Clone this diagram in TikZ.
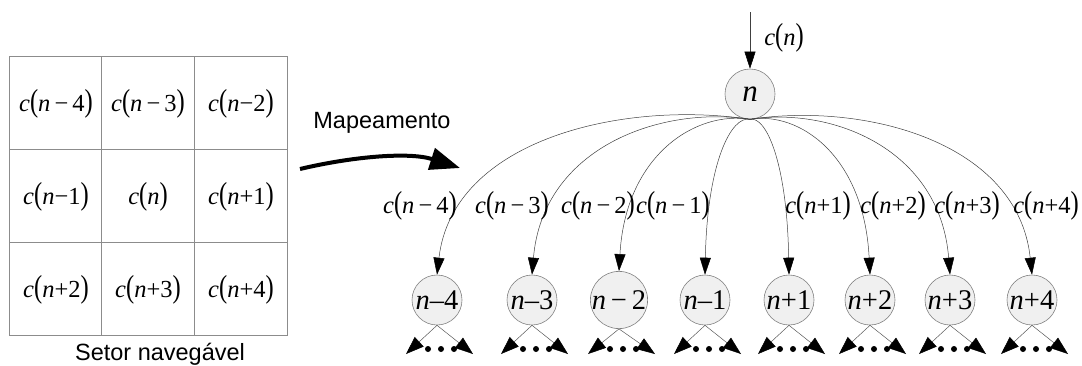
\documentclass[tikz,border=0pt]{standalone}
\usepackage{fontspec}
\setmainfont{Liberation Serif}
\newfontfamily\labelsans{Liberation Sans}
\usetikzlibrary{arrows.meta,calc}

% tall parentheses and the c(...) term
\newcommand\pL{\scalebox{1}[1.3]{(}}
\newcommand\pR{\scalebox{1}[1.3]{)}}
\newcommand\cterm[1]{\textit{c}\pL#1\pR}
\newcommand\vn{\textit{n}}
\newcommand\smin{\,−\,}

\begin{document}
\begin{tikzpicture}[x=1pt,y=-1pt,
  mathtxt/.style={font=\fontsize{24.5}{26}\selectfont, inner sep=0pt},
  sanstxt/.style={font=\labelsans\fontsize{23.5}{26}\selectfont, inner sep=0pt},
  gridline/.style={draw=black!45, line width=1pt},
  state/.style={circle, draw=black!50, fill=black!6, line width=0.6pt,
    minimum size=50pt, inner sep=0pt, font=\fontsize{28.5}{30}\selectfont},
  edge/.style={draw=black!75, line width=0.5pt,
    -{Triangle[length=17pt,width=11pt,color=black]}},
  spread/.style={draw=black!65, line width=0.5pt,
    -{Triangle[length=18pt,width=13pt,color=black]}},
  dot/.style={circle, fill=black, minimum size=6pt, inner sep=0pt}
]
\path[use as bounding box] (0,0) rectangle (1082,365);

% ---- navigable sector: 3x3 grid ----
\draw[gridline] (9,56) rectangle (287,335);
\draw[gridline] (101,56) -- (101,335) (194,56) -- (194,335)
                (9,149) -- (287,149) (9,242) -- (287,242);
\node[mathtxt] (g1) at (56,104)  {\cterm{\vn\smin4}};
\node[mathtxt] (g2) at (148,104) {\cterm{\vn\smin3}};
\node[mathtxt] (g3) at (241,104) {\cterm{\vn−2}};
\node[mathtxt] (g4) at (56,197)  {\cterm{\vn−1}};
\node[mathtxt] (g5) at (148,197) {\cterm{\vn}};
\node[mathtxt] (g6) at (241,197) {\cterm{\vn+1}};
\node[mathtxt] (g7) at (56,290)  {\cterm{\vn+2}};
\node[mathtxt] (g8) at (148,290) {\cterm{\vn+3}};
\node[mathtxt] (g9) at (241,290) {\cterm{\vn+4}};
\node[sanstxt] (sector) at (160,354) {Setor navegável};

% ---- mapping arrow ----
\node[sanstxt] (map) at (382,123) {Mapeamento};
\coordinate (ms) at (300,169);
\coordinate (me) at (460,168);
\draw[line width=4pt, -{Triangle[length=30pt,width=22pt]}]
  (ms) .. controls (355,156) and (410,152) .. (me);

% ---- tree ----
\node[state, font=\fontsize{31}{33}\selectfont] (n) at (750,94) {\vn};
\coordinate (cin) at (750,12);
\draw[edge] (cin) -- (n.north);
\node[mathtxt] (lin) at (784,38) {\cterm{\vn}};

\foreach \name/\x/\txt in {m4/437/\vn–4, m3/532/\vn–3, m2/619/\vn\smin2, m1/705/\vn–1,
                           p1/789/\vn+1, p2/870/\vn+2, p3/950/\vn+3, p4/1032/\vn+4}{
  \node[state] (\name) at (\x,300) {\txt};
  \coordinate (\name l) at (\x-31,354);
  \coordinate (\name r) at (\x+36,354);
  \draw[spread] (\name.south) -- (\name l);
  \draw[spread] (\name.south) -- (\name r);
  \node[dot] (\name d1) at (\x-9,349) {};
  \node[dot] (\name d2) at (\x+4,349) {};
  \node[dot] (\name d3) at (\x+17,349) {};
}

% fan of branches from n
\draw[edge] (n.south) .. controls (621.7,100) and (452.7,140) .. (m4.north);
\draw[edge] (n.south) .. controls (660.6,105.5) and (542.9,147.6) .. (m3.north);
\draw[edge] (n.south) .. controls (696.3,110.5) and (625.6,154.5) .. (m2.north);
\draw[edge] (n.south) .. controls (731.6,115.4) and (707.3,161.4) .. (m1.north);
\draw[edge] (n.south) .. controls (766,115.8) and (787,161.9) .. (p1.north);
\draw[edge] (n.south) .. controls (799.2,111.1) and (864,155.4) .. (p2.north);
\draw[edge] (n.south) .. controls (832,106.5) and (940,149) .. (p3.north);
\draw[edge] (n.south) .. controls (865.6,101.8) and (1018,142.5) .. (p4.north);

% branch labels
\node[mathtxt] (lm4) at (420,206)  {\cterm{\vn\smin4}};
\node[mathtxt] (lm3) at (512,206)  {\cterm{\vn\smin3}};
\node[mathtxt] (lm2) at (598,206)  {\cterm{\vn\smin2}};
\node[mathtxt] (lm1) at (673,206)  {\cterm{\vn\smin1}};
\node[mathtxt] (lp1) at (818,206)  {\cterm{\vn+1}};
\node[mathtxt] (lp2) at (893,206)  {\cterm{\vn+2}};
\node[mathtxt] (lp3) at (967,206)  {\cterm{\vn+3}};
\node[mathtxt] (lp4) at (1046,206) {\cterm{\vn+4}};
\end{tikzpicture}
\end{document}
